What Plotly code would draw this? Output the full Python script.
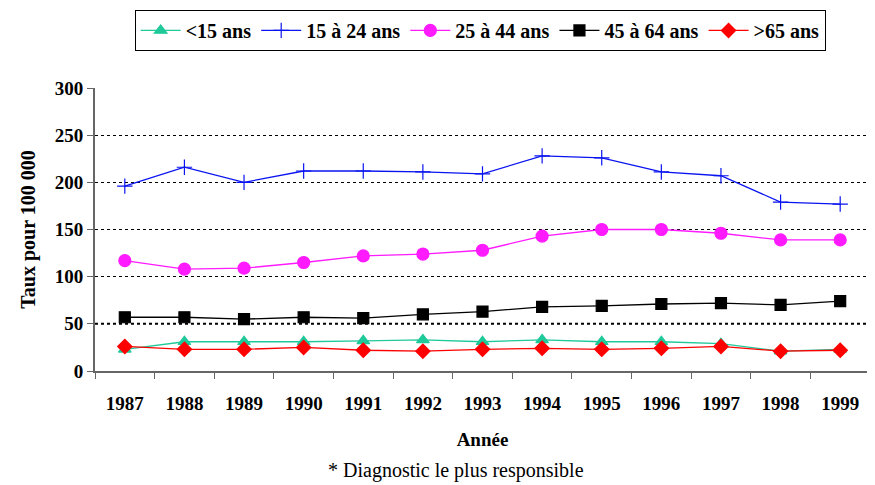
import plotly.graph_objects as go

annees = [str(a) for a in range(1987, 2000)]
moins_15 = [23, 31, 31, 31, 32, 33, 31, 33, 31, 31, 29, 21, 23]
de_15_24 = [196, 216, 200, 212, 212, 211, 209, 228, 226, 211, 207, 179, 177]
de_25_44 = [117, 108, 109, 115, 122, 124, 128, 143, 150, 150, 146, 139, 139]
de_45_64 = [57, 57, 55, 57, 56, 60, 63, 68, 69, 71, 72, 70, 74]
plus_65 = [26, 23, 23, 25, 22, 21, 23, 24, 23, 24, 26, 21, 22]

police = "'Liberation Serif', 'Times New Roman', Times, serif"

series = [
    ("<15 ans", moins_15, "#1fc99a", "triangle-up", 11),
    ("15 à 24 ans", de_15_24, "#0a14f0", "cross-thin-open", 11),
    ("25 à 44 ans", de_25_44, "#ff1aff", "circle", 12),
    ("45 à 64 ans", de_45_64, "#000000", "square", 11),
    (">65 ans", plus_65, "#ff0000", "diamond", 11),
]

fig = go.Figure()
for nom, valeurs, couleur, symbole, taille in series:
    marker = dict(color=couleur, symbol=symbole, size=taille,
                  line=dict(color=couleur, width=1.2))
    fig.add_trace(go.Scatter(
        x=annees, y=valeurs, name=nom, mode="lines+markers",
        line=dict(color=couleur, width=1.3), marker=marker,
    ))

# la ligne des 50 est plus marquée dans l'original
fig.add_hline(y=50, line=dict(color="black", width=2, dash="dot"), layer="below")

# la page ajoute 8 px de marge autour du graphique : on compense
fig.update_layout(
    width=867, height=477,
    paper_bgcolor="white", plot_bgcolor="white",
    font=dict(family=police, color="black", size=18),
    margin=dict(l=87, r=5, t=80, b=114, autoexpand=False),
    legend=dict(
        orientation="h", x=0.497, xanchor="center", y=1.276, yanchor="top",
        bordercolor="black", borderwidth=1,
        font=dict(family=police, size=20, weight="bold"),
        itemwidth=40, tracegroupgap=0,
    ),
    xaxis=dict(
        type="category", range=[-0.5, len(annees) - 0.5],
        tickson="boundaries", ticks="outside", ticklen=6,
        tickcolor="#666", showline=True, linecolor="#666", linewidth=2,
        showgrid=False, tickfont=dict(size=19, weight="bold"),
        ticklabelstandoff=14,
        title=dict(text="Année", font=dict(size=19, weight="bold"), standoff=20),
    ),
    yaxis=dict(
        range=[0, 300], dtick=50, ticks="outside", ticklen=6, tickcolor="#666",
        showline=True, linecolor="#666", linewidth=2,
        showgrid=True, gridcolor="black", griddash="dot", gridwidth=1,
        zeroline=False, tickfont=dict(size=19, weight="bold"),
        title=dict(text="Taux pour 100 000", font=dict(size=20, weight="bold"), standoff=14),
    ),
)

fig.add_annotation(
    text="* Diagnostic le plus responsible", xref="paper", yref="paper",
    x=0.466, y=-0.352, xanchor="center", yanchor="middle", showarrow=False,
    font=dict(family=police, size=20),
)

fig.write_html("out.html")
